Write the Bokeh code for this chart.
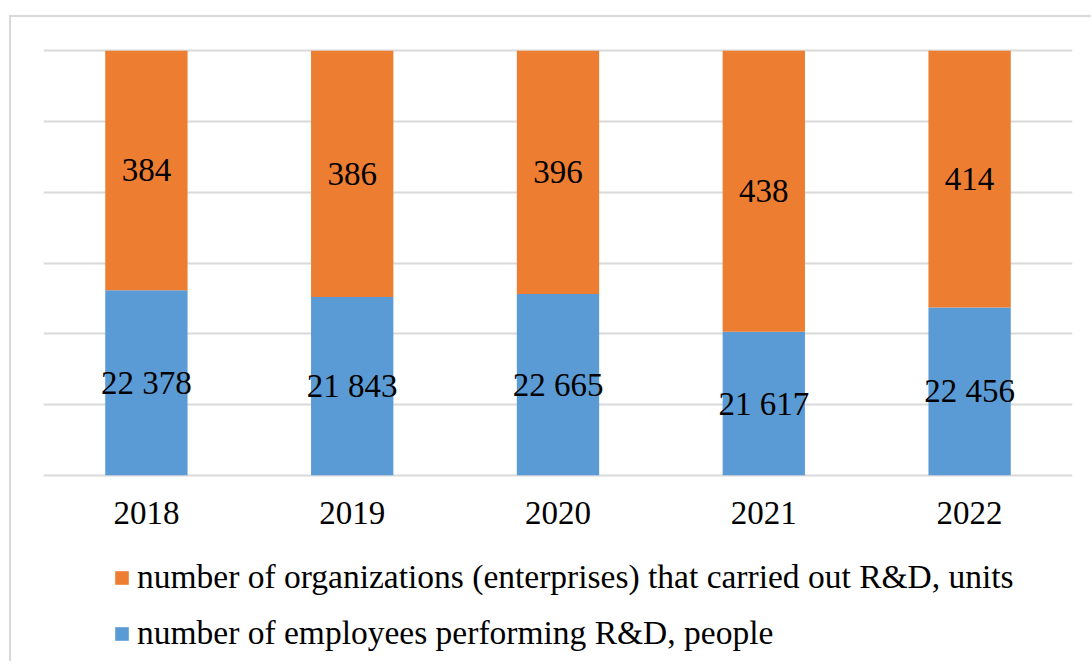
from bokeh.plotting import figure
from bokeh.layouts import column
from bokeh.models import ColumnDataSource, Range1d, FixedTicker, Legend, LegendItem
from bokeh.core.properties import value
from bokeh.embed import file_html
from bokeh.resources import INLINE

years = ["2018", "2019", "2020", "2021", "2022"]
employees = [22378, 21843, 22665, 21617, 22456]
organizations = [384, 386, 396, 438, 414]
# share of each bar's height taken by the employees segment
employee_share = [0.436, 0.420, 0.427, 0.338, 0.395]

name_org = "number of organizations (enterprises) that carried out R&D, units"
name_emp = "number of employees performing R&D, people"

BLUE = "#5B9BD5"
ORANGE = "#ED7D31"
FONT = "Liberation Serif"

def fmt(v):
    return f"{v:,}".replace(",", " ")

src = ColumnDataSource(dict(
    x=years,
    share=employee_share,
    one=[1.0] * len(years),
    zero=[0.0] * len(years),
    emp_mid=[s / 2 for s in employee_share],
    org_mid=[(1 + s) / 2 for s in employee_share],
    emp_lbl=[fmt(v) for v in employees],
    org_lbl=[fmt(v) for v in organizations],
))

W = 1080
H1 = 532
H2 = 112

p = figure(x_range=years, y_range=Range1d(-0.01, 1.01), width=W, height=H1,
           output_backend="svg", toolbar_location=None, y_axis_location=None,
           min_border_left=32, min_border_right=W - 1061, min_border_top=29,
           min_border_bottom=H1 - 462)
p.outline_line_color = None
p.background_fill_color = "white"
p.border_fill_color = "white"

p.xgrid.visible = False
p.ygrid.ticker = FixedTicker(ticks=[i / 6 for i in range(7)])
p.ygrid.grid_line_color = "#d9d9d9"
p.ygrid.grid_line_width = 2

r_emp = p.vbar(x="x", bottom="zero", top="share", width=0.4, source=src,
               fill_color=BLUE, line_color=None)
r_org = p.vbar(x="x", bottom="share", top="one", width=0.4, source=src,
               fill_color=ORANGE, line_color=None)

p.text(x="x", y="emp_mid", text="emp_lbl", source=src, text_font=value(FONT),
       text_font_size="33px", text_align="center", text_baseline="middle",
       text_color="black")
p.text(x="x", y="org_mid", text="org_lbl", source=src, text_font=value(FONT),
       text_font_size="33px", text_align="center", text_baseline="middle",
       text_color="black")

ax = p.xaxis[0]
ax.axis_line_color = None
ax.major_tick_line_color = None
ax.minor_tick_line_color = None
ax.major_label_text_font = FONT
ax.major_label_text_font_size = "33px"
ax.major_label_text_color = "black"
ax.major_label_standoff = 16

# legend panel below the chart: same series, drawn out of its visible range,
# only so that the legend has glyphs to show
p2 = figure(x_range=years, y_range=Range1d(2, 3), width=W, height=H2,
            output_backend="svg", toolbar_location=None,
            x_axis_location=None, y_axis_location=None,
            min_border_left=32, min_border_right=W - 1061, min_border_top=0,
            min_border_bottom=0)
p2.outline_line_color = None
p2.grid.visible = False
p2.background_fill_color = "white"
p2.border_fill_color = "white"
l_org = p2.vbar(x="x", bottom="share", top="one", width=0.4, source=src,
                fill_color=ORANGE, line_color=None)
l_emp = p2.vbar(x="x", bottom="zero", top="share", width=0.4, source=src,
                fill_color=BLUE, line_color=None)

legend = Legend(items=[LegendItem(label=name_org, renderers=[l_org]),
                       LegendItem(label=name_emp, renderers=[l_emp])],
                location=(70, 9), orientation="vertical",
                label_text_font=FONT, label_text_font_size="33.5px",
                label_text_color="black", glyph_width=17, glyph_height=17,
                label_standoff=7, spacing=18, padding=0, margin=0,
                border_line_color=None, background_fill_alpha=0)
p2.add_layout(legend, "center")

layout = column(p, p2, spacing=0)
layout.margin = (15, 0, 0, 9)
layout.styles = {"border-left": "2px solid #d9d9d9", "border-top": "2px solid #d9d9d9"}

open("out.html", "w").write(file_html(layout, INLINE))
